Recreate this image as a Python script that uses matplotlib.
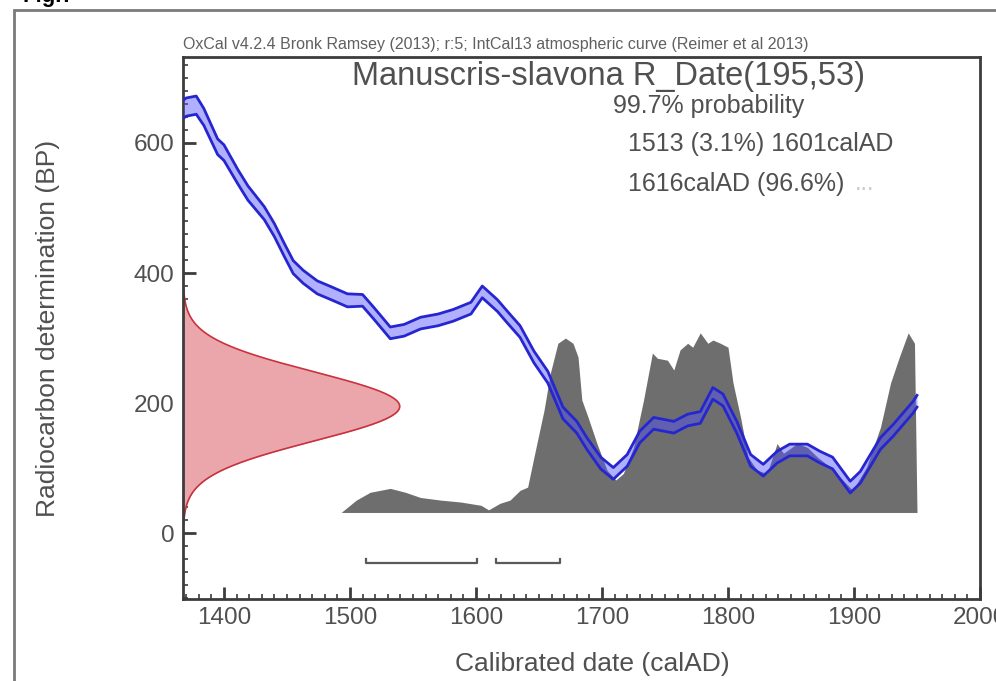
import numpy as np
import matplotlib
matplotlib.use("Agg")
import matplotlib.pyplot as plt
from matplotlib.patches import Rectangle
from matplotlib.ticker import MultipleLocator

plt.rcParams['font.family'] = ['Liberation Sans', 'DejaVu Sans']

# ==========================================
# data
# ==========================================
# calibration curve (centre, BP) and its 1-sigma half width
cal_year = [1368, 1370, 1378, 1384, 1395, 1400, 1411, 1419, 1432, 1440,
            1448, 1455, 1463, 1474, 1485, 1498, 1510, 1519, 1532, 1543,
            1556, 1570, 1582, 1596, 1605, 1617, 1625, 1635, 1646, 1657,
            1669, 1680, 1688, 1699, 1709, 1720, 1730, 1741, 1757, 1768,
            1778, 1788, 1796, 1807, 1818, 1828, 1839, 1849, 1863, 1873,
            1883, 1897, 1905, 1913, 1921, 1931, 1947, 1950]
cal_bp = [652, 655, 658, 640, 594, 585, 548, 523, 492, 466,
          435, 409, 394, 378, 369, 358, 358, 338, 308, 312,
          323, 328, 335, 346, 371, 350, 332, 310, 271, 240,
          185, 163, 138, 108, 92, 112, 148, 169, 163, 174,
          178, 215, 205, 163, 112, 97, 117, 128, 128, 117,
          108, 71, 86, 112, 138, 158, 194, 203]
cal_sigma = [14, 14, 14, 13, 12, 12, 11, 11, 10, 10,
             10, 10, 10, 10, 10, 10, 9, 9, 9, 9,
             9, 9, 9, 9, 9, 9, 9, 9, 9, 9,
             9, 9, 9, 9, 9, 9, 9, 9, 9, 9,
             9, 9, 9, 9, 9, 9, 9, 9, 9, 9,
             9, 9, 9, 9, 9, 9, 9, 9]

# calibrated (posterior) distribution, top outline in BP units
post_year = [1421, 1493, 1505, 1516, 1532, 1544, 1556, 1572, 1588, 1604,
             1610, 1619, 1627, 1635, 1641, 1646, 1654, 1659, 1665, 1671,
             1677, 1681, 1684, 1689, 1696, 1704, 1711, 1717, 1725, 1733,
             1740, 1744, 1752, 1757, 1762, 1768, 1772, 1778, 1784, 1788,
             1794, 1800, 1804, 1810, 1816, 1823, 1831, 1839, 1844, 1855,
             1863, 1871, 1881, 1891, 1899, 1910, 1921, 1929, 1936, 1943,
             1948, 1950]
post_top = [32, 32, 51, 63, 69, 63, 55, 51, 48, 43,
            36, 46, 51, 66, 71, 117, 189, 246, 292, 300,
            292, 271, 205, 178, 138, 97, 82, 92, 132, 205,
            277, 269, 266, 251, 282, 292, 286, 308, 292, 297,
            292, 286, 231, 178, 117, 97, 92, 138, 123, 138,
            132, 117, 102, 82, 66, 102, 163, 231, 271, 308,
            292, 32]
POST_BASE = 32

# radiocarbon date R_Date(195,53)
RDATE_MEAN = 195
RDATE_SD = 53
RDATE_WIDTH = 172   # peak width of the red curve, in years

# 99.7% ranges
range_start = [1513, 1616]
range_end = [1601, 1667]
RANGE_Y = -45

title = "Manuscris-slavona R_Date(195,53)"
header = "OxCal v4.2.4 Bronk Ramsey (2013); r:5; IntCal13 atmospheric curve (Reimer et al 2013)"
prob_lines = ["99.7% probability", "1513 (3.1%) 1601calAD", "1616calAD (96.6%)"]

# ==========================================
# figure
# ==========================================
W, H = 996, 681
fig = plt.figure(figsize=(W / 100, H / 100), dpi=100)
fig.patch.set_facecolor('white')

def fx(px):
    return px / W

def fy(py):
    return 1 - py / H

ax = fig.add_axes([fx(183), fy(599), fx(980) - fx(183), fy(57) - fy(599)])
XMIN, XMAX = 1367.5, 2000
ax.set_xlim(XMIN, XMAX)
ax.set_ylim(-101, 732)

TXT = '#505050'
AXC = '#3c3c3c'

# grey posterior
ax.fill_between(post_year, POST_BASE, post_top, color='#6e6e6e', lw=0, zorder=1)

# red radiocarbon date on the y axis
bp = np.linspace(RDATE_MEAN - 3.4 * RDATE_SD, RDATE_MEAN + 3.4 * RDATE_SD, 300)
dens = np.exp(-0.5 * ((bp - RDATE_MEAN) / RDATE_SD) ** 2)
ax.fill_betweenx(bp, XMIN, XMIN + RDATE_WIDTH * dens, color='#eaa6aa', lw=0, zorder=2)
ax.plot(XMIN + RDATE_WIDTH * dens, bp, color='#c8323e', lw=1.2, zorder=2)

# calibration curve band
cy = np.array(cal_year)
cb = np.array(cal_bp)
cs = np.array(cal_sigma)
ax.fill_between(cy, cb - cs, cb + cs, color='#5050ff', alpha=0.45, lw=0, zorder=3)
ax.plot(cy, cb + cs, color='#2626d0', lw=2, zorder=4)
ax.plot(cy, cb - cs, color='#2626d0', lw=2, zorder=4)

# range bars
for s, e in zip(range_start, range_end):
    ax.plot([s, s, e, e], [RANGE_Y + 6, RANGE_Y, RANGE_Y, RANGE_Y + 6],
            color='#5a5a5a', lw=1.6, zorder=3)

# axes styling
for side in ['left', 'bottom', 'top', 'right']:
    ax.spines[side].set_color(AXC)
    ax.spines[side].set_linewidth(2)
ax.set_xticks([1400, 1500, 1600, 1700, 1800, 1900, 2000])
ax.set_yticks([0, 200, 400, 600])
ax.xaxis.set_minor_locator(MultipleLocator(10))
ax.yaxis.set_minor_locator(MultipleLocator(20))
ax.tick_params(which='major', direction='in', length=9, width=2, color=AXC,
               labelcolor=TXT, labelsize=17.5, pad=6)
ax.tick_params(which='minor', direction='in', length=3.5, width=1.2, color=AXC)

ax.set_xlabel("Calibrated date (calAD)", fontsize=19, color=TXT)
ax.set_ylabel("Radiocarbon determination (BP)", fontsize=19, color=TXT)
ax.xaxis.set_label_coords((592 - 183) / 797, (599 - 652) / 542)
ax.yaxis.set_label_coords((60 - 183) / 797, 0.5)

# texts
fig.text(fx(183), fy(44), header, fontsize=11.5, color='#606060', ha='left', va='center')
fig.text(fx(608), fy(77), title, fontsize=23.5, color=TXT, ha='center', va='center')
fig.text(fx(613), fy(106), prob_lines[0], fontsize=18, color=TXT, ha='left', va='center')
fig.text(fx(628), fy(144), prob_lines[1], fontsize=18, color=TXT, ha='left', va='center')
fig.text(fx(628), fy(184), prob_lines[2], fontsize=18, color=TXT, ha='left', va='center')
fig.text(fx(855), fy(184), "...", fontsize=17, color='#c8c8c8', ha='left', va='center')

# outer frame and the clipped figure caption
fig.patches.append(Rectangle((fx(14), -0.2), 1.2, fy(10) + 0.2, transform=fig.transFigure,
                             fill=False, edgecolor='#7a7a7a', lw=2))
fig.text(fx(22), fy(7), "Fig.7", fontsize=16, fontweight='bold', color='black',
         ha='left', va='bottom')

fig.savefig("out.png", dpi=100)
